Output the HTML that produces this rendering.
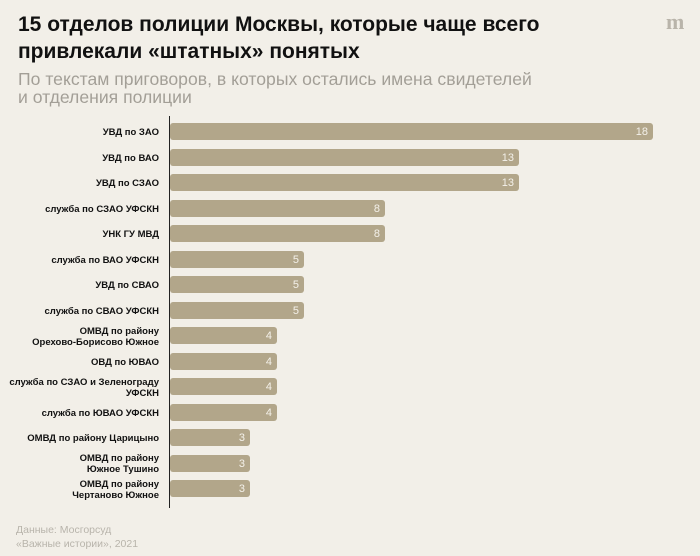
<!DOCTYPE html>
<html><head><meta charset="utf-8"><style>
body{margin:0;background:#f2efe8;}
svg{display:block}
</style></head><body>
<svg width="700" height="556" xmlns="http://www.w3.org/2000/svg" font-family="Liberation Sans, DejaVu Sans, sans-serif">
<rect width="700" height="556" fill="#f2efe8"/>
<text x="18" y="31" font-size="21" font-weight="bold" fill="#111">15 отделов полиции Москвы, которые чаще всего</text>
<text x="18" y="58" font-size="21" font-weight="bold" fill="#111">привлекали «штатных» понятых</text>
<text x="666" y="29" font-size="22" font-weight="bold" fill="#b9b4aa" font-family="Liberation Serif, serif">m</text>
<text x="18" y="85" font-size="17.6" fill="#a39f97">По текстам приговоров, в которых остались имена свидетелей</text>
<text x="18" y="103" font-size="17.6" fill="#a39f97">и отделения полиции</text>
<line x1="169.5" y1="116" x2="169.5" y2="508" stroke="#222" stroke-width="1"/>
<g fill="#b2a68a">
<rect x="170" y="123" width="483" height="17" rx="3"/>
<rect x="170" y="149" width="349" height="17" rx="3"/>
<rect x="170" y="174" width="349" height="17" rx="3"/>
<rect x="170" y="200" width="215" height="17" rx="3"/>
<rect x="170" y="225" width="215" height="17" rx="3"/>
<rect x="170" y="251" width="134" height="17" rx="3"/>
<rect x="170" y="276" width="134" height="17" rx="3"/>
<rect x="170" y="302" width="134" height="17" rx="3"/>
<rect x="170" y="327" width="107" height="17" rx="3"/>
<rect x="170" y="353" width="107" height="17" rx="3"/>
<rect x="170" y="378" width="107" height="17" rx="3"/>
<rect x="170" y="404" width="107" height="17" rx="3"/>
<rect x="170" y="429" width="80" height="17" rx="3"/>
<rect x="170" y="455" width="80" height="17" rx="3"/>
<rect x="170" y="480" width="80" height="17" rx="3"/>
</g>
<g fill="#f4f1ea" font-size="11" text-anchor="end">
<text x="648" y="135">18</text>
<text x="514" y="161">13</text>
<text x="514" y="186">13</text>
<text x="380" y="212">8</text>
<text x="380" y="237">8</text>
<text x="299" y="263">5</text>
<text x="299" y="288">5</text>
<text x="299" y="314">5</text>
<text x="272" y="339">4</text>
<text x="272" y="365">4</text>
<text x="272" y="390">4</text>
<text x="272" y="416">4</text>
<text x="245" y="441">3</text>
<text x="245" y="467">3</text>
<text x="245" y="492">3</text>
</g>
<g fill="#111" font-size="9.5" font-weight="bold" text-anchor="end">
<text x="159" y="135">УВД по ЗАО</text>
<text x="159" y="161">УВД по ВАО</text>
<text x="159" y="186">УВД по СЗАО</text>
<text x="159" y="212">служба по СЗАО УФСКН</text>
<text x="159" y="237">УНК ГУ МВД</text>
<text x="159" y="263">служба по ВАО УФСКН</text>
<text x="159" y="288">УВД по СВАО</text>
<text x="159" y="314">служба по СВАО УФСКН</text>
<text x="159" y="334">ОМВД по району</text>
<text x="159" y="345">Орехово-Борисово Южное</text>
<text x="159" y="365">ОВД по ЮВАО</text>
<text x="159" y="385">служба по СЗАО и Зеленограду</text>
<text x="159" y="396">УФСКН</text>
<text x="159" y="416">служба по ЮВАО УФСКН</text>
<text x="159" y="441">ОМВД по району Царицыно</text>
<text x="159" y="461">ОМВД по району</text>
<text x="159" y="472">Южное Тушино</text>
<text x="159" y="487">ОМВД по району</text>
<text x="159" y="498">Чертаново Южное</text>
</g>
<text x="16" y="533" font-size="10.5" fill="#b8b4ab">Данные: Мосгорсуд</text>
<text x="16" y="547" font-size="10.5" fill="#b8b4ab">«Важные истории», 2021</text>
</svg>
</body></html>
